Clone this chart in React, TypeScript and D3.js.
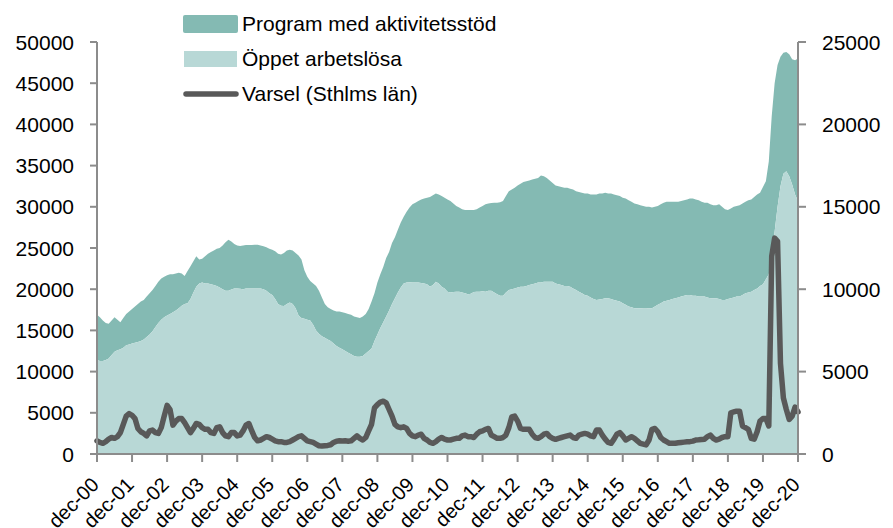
import React from "react";
import * as d3 from "d3";

// Monthly values, dec-00 … dec-20 (241 months)
const programMedAktivitetsstod: number[] = [
  5500,
  5300, 4900, 4500, 4200, 4200, 4200, 3700, 3300, 3600, 3800, 4000, 4200,
  4400, 4600, 4800, 4800, 4900, 5000, 5000, 5000, 5000, 5000, 4900, 4900,
  4800, 4600, 4500, 4300, 3900, 3400, 3900, 4000, 3800, 3700, 2900, 2900,
  3300, 3600, 3900, 4200, 4500, 4800, 5300, 5900, 6200, 5850, 5400, 5200,
  5200, 5300, 5250, 5250, 5250, 5300, 5300, 5200, 5200, 5300, 5400, 5500,
  5800, 6100, 6200, 6450, 6500, 6400, 6500, 6700, 7300, 7100, 5900, 5200,
  4800, 5000, 5400, 5200, 4700, 4100, 3900, 3900, 4000, 4200, 4400, 4500,
  4600, 4700, 4800, 4800, 4800, 4700, 4800, 4800, 5100, 5700, 5800, 6300,
  6500, 6700, 7100, 7100, 7400, 7400, 7600, 7900, 8100, 8600, 9050, 9500,
  9700, 9900, 10150, 10300, 10500, 10900, 10900, 10700, 10800, 11000, 11000, 11200,
  11100, 10750, 10400, 10200, 10100, 10100, 10200, 10150, 9950, 10000, 10200, 10350,
  10600, 10600, 10650, 10900, 11100, 11350, 11500, 11700, 12000, 12100, 12200, 12400,
  12500, 12700, 12700, 12700, 12700, 12700, 12700, 13000, 12800, 12600, 12300, 12000,
  11900, 11900, 11900, 11900, 11900, 11900, 12000, 12000, 12100, 12200, 12300, 12400,
  12500, 12700, 12800, 12850, 12800, 12800, 12700, 12800, 12800, 12800, 12800, 12800,
  12900, 12900, 12800, 12700, 12600, 12500, 12450, 12350, 12300, 12200, 12100, 12000,
  12000, 12000, 12000, 11900, 11800, 11700, 11600, 11600, 11600, 11600, 11700, 11800,
  11700, 11700, 11500, 11400, 11500, 11400, 11300, 11300, 11500, 11300, 11000, 10800,
  10900, 11000, 11000, 11100, 11100, 11100, 11200, 11200, 11300, 11400, 11300, 11800,
  11900, 13700, 16800, 18000, 17200, 15700, 14700, 14500, 14800, 15200, 16300, 17300,
];

const oppetArbetslosa: number[] = [
  11400,
  11300, 11300, 11400, 11600, 12000, 12400, 12600, 12700, 12900, 13200, 13300, 13400,
  13500, 13600, 13700, 13900, 14200, 14500, 14900, 15400, 15900, 16300, 16600, 16800,
  17000, 17200, 17400, 17700, 18000, 18200, 18300, 18800, 19600, 20300, 20700, 20800,
  20700, 20700, 20600, 20500, 20400, 20200, 20000, 19800, 19800, 19950, 20100, 20100,
  20050, 20000, 20100, 20100, 20100, 20100, 20100, 20100, 20000, 19800, 19500, 19300,
  18800, 18200, 18000, 17950, 18200, 18400, 18200, 17700, 16800, 16500, 16400, 16300,
  16200, 15700, 15000, 14600, 14300, 14100, 13900, 13700, 13400, 13100, 12900, 12700,
  12500, 12300, 12100, 11900, 11800, 11800, 11900, 12200, 12500, 12800, 13700, 14500,
  15300, 16000, 16700, 17400, 18200, 18900, 19600, 20200, 20700, 20800, 20850, 20800,
  20800, 20800, 20750, 20700, 20600, 20300, 20500, 20900, 20700, 20300, 20100, 19700,
  19600, 19650, 19700, 19700, 19600, 19500, 19400, 19450, 19650, 19700, 19700, 19750,
  19700, 19800, 19800, 19600, 19400, 19200, 19200, 19600, 19900, 20000, 20100, 20200,
  20300, 20300, 20400, 20500, 20600, 20700, 20800, 20800, 20900, 20900, 20900, 20900,
  20700, 20600, 20500, 20400, 20400, 20300, 20100, 19900, 19700, 19500, 19300, 19200,
  19000, 18800, 18700, 18750, 18800, 18900, 18900, 18800, 18700, 18600, 18500, 18300,
  18100, 17900, 17800, 17700, 17700, 17700, 17650, 17650, 17700, 17700, 17900, 18100,
  18300, 18500, 18600, 18700, 18800, 18900, 19000, 19100, 19200, 19300, 19300, 19200,
  19200, 19100, 19100, 19100, 19000, 18900, 18900, 18900, 18800, 18700, 18700, 18800,
  18900, 19000, 19100, 19100, 19300, 19500, 19600, 19700, 19900, 20100, 20400, 20600,
  21200, 21800, 24200, 27000, 30000, 32500, 34000, 34300, 33700, 32700, 31500, 30700,
];

const varselSthlm: number[] = [
  800,
  700, 650, 750, 900, 1000, 950, 1050, 1300, 1800, 2300, 2450, 2350,
  2150, 1550, 1350, 1250, 1100, 1400, 1450, 1300, 1250, 1600, 2300, 2950,
  2700, 1750, 2000, 2150, 2150, 1900, 1600, 1300, 1550, 1850, 1800, 1600,
  1500, 1500, 1300, 1250, 1600, 1650, 1300, 1100, 1050, 1300, 1300, 1100,
  1150, 1400, 1750, 1850, 1400, 1000, 800, 850, 950, 1050, 1000, 900,
  800, 750, 750, 700, 700, 750, 850, 950, 1050, 1100, 950, 800,
  750, 700, 600, 500, 480, 500, 520, 560, 700, 780, 800, 790,
  800, 780, 800, 950, 1100, 950, 850, 1000, 1400, 1800, 2800, 3000,
  3150, 3200, 3100, 2700, 2300, 1800, 1650, 1600, 1650, 1550, 1250, 1100,
  1050, 1150, 1200, 950, 850, 700, 650, 750, 900, 1000, 900, 850,
  850, 900, 950, 950, 1100, 1150, 1050, 1050, 1000, 1200, 1350, 1400,
  1500, 1550, 1150, 1050, 950, 950, 1000, 1150, 1600, 2250, 2300, 2000,
  1550, 1500, 1500, 1500, 1200, 1000, 950, 1050, 1200, 1250, 1050, 950,
  890, 950, 1000, 1050, 1100, 1150, 1000, 950, 1150, 1200, 1250, 1200,
  1100, 1050, 1450, 1450, 1150, 900, 700, 650, 900, 1200, 1300, 1100,
  850, 950, 1050, 950, 800, 650, 600, 550, 850, 1500, 1550, 1350,
  1000, 850, 750, 650, 650, 650, 680, 700, 720, 740, 750, 780,
  850, 860, 880, 900, 1050, 1150, 950, 850, 900, 1000, 1050, 1050,
  2500, 2550, 2600, 2600, 1700, 1600, 1500, 950, 900, 1350, 2000, 2150,
  2150, 1700, 12000, 13100, 12900, 5500, 3400, 2700, 2100, 2300, 2850, 2550,
];

const xTickLabels: string[] = [
  "dec-00", "dec-01", "dec-02", "dec-03", "dec-04", "dec-05", "dec-06",
  "dec-07", "dec-08", "dec-09", "dec-10", "dec-11", "dec-12", "dec-13",
  "dec-14", "dec-15", "dec-16", "dec-17", "dec-18", "dec-19", "dec-20",
];
const leftTicks: number[] = [0, 5000, 10000, 15000, 20000, 25000, 30000, 35000, 40000, 45000, 50000];
const rightTicks: number[] = [0, 5000, 10000, 15000, 20000, 25000];
const seriesNames: string[] = ["Program med aktivitetsstöd", "Öppet arbetslösa", "Varsel (Sthlms län)"];

const COL_PROGRAM = "#84bab3";
const COL_OPEN = "#b8d8d6";
const COL_LINE = "#595959";
const AXIS = "#8c8c8c";
const FONT = "'Liberation Sans', Arial, sans-serif";

export default function App() {
  const W = 893, H = 528;
  const left = 97, right = 798, top = 42, bottom = 454;
  const n = oppetArbetslosa.length;

  const x = d3.scaleLinear().domain([0, n - 1]).range([left, right]);
  const yL = d3.scaleLinear().domain([0, 50000]).range([bottom, top]);
  const yR = d3.scaleLinear().domain([0, 25000]).range([bottom, top]);

  const rows = oppetArbetslosa.map((o, i) => ({ i, open: o, program: programMedAktivitetsstod[i] }));
  const stacked = d3.stack<any>().keys(["open", "program"])(rows);

  const area = d3.area<any>()
    .x((d) => x(d.data.i))
    .y0((d) => yL(d[0]))
    .y1((d) => yL(d[1]))
    .curve(d3.curveLinear);

  const line = d3.line<number>()
    .x((_, i) => x(i))
    .y((v) => yR(v))
    .curve(d3.curveLinear);

  const fs = 21;

  return (
    <div style={{ width: W, height: H }}>
      <style>{`body{margin:0;}`}</style>
      <svg width={W} height={H} style={{ display: "block", fontFamily: FONT }}>
        <rect width={W} height={H} fill="#fff" />
        {/* areas */}
        <path d={area(stacked[1] as any) || ""} fill={COL_PROGRAM} />
        <path d={area(stacked[0] as any) || ""} fill={COL_OPEN} />
        {/* varsel line */}
        <path d={line(varselSthlm) || ""} fill="none" stroke={COL_LINE} strokeWidth={5.5}
          strokeLinejoin="round" strokeLinecap="round" />

        {/* left axis */}
        <line x1={left} x2={left} y1={top} y2={bottom} stroke={AXIS} strokeWidth={2} />
        {leftTicks.map((t) => (
          <g key={"l" + t}>
            <line x1={left - 7} x2={left} y1={yL(t)} y2={yL(t)} stroke={AXIS} strokeWidth={2} />
            <text x={74} y={yL(t) + 7.5} textAnchor="end" fontSize={fs} fill="#000">{t}</text>
          </g>
        ))}
        {/* right axis */}
        <line x1={right} x2={right} y1={top} y2={bottom} stroke={AXIS} strokeWidth={2} />
        {rightTicks.map((t) => (
          <g key={"r" + t}>
            <line x1={right} x2={right + 8} y1={yR(t)} y2={yR(t)} stroke={AXIS} strokeWidth={2} />
            <text x={822} y={yR(t) + 7.5} textAnchor="start" fontSize={fs} fill="#000">{t}</text>
          </g>
        ))}
        {/* x axis */}
        <line x1={left} x2={right} y1={bottom} y2={bottom} stroke={AXIS} strokeWidth={2} />
        {xTickLabels.map((lab, k) => {
          const xx = x(k * 12);
          return (
            <g key={lab}>
              <line x1={xx} x2={xx} y1={bottom} y2={bottom + 8} stroke={AXIS} strokeWidth={2} />
              <text transform={`translate(${xx + 3},${486}) rotate(-45)`} textAnchor="end"
                fontSize={20} fill="#000">{lab}</text>
            </g>
          );
        })}

        {/* legend */}
        <rect x={183} y={15} width={55} height={18} rx={2} fill={COL_PROGRAM} />
        <text x={242} y={31} fontSize={fs} fill="#000">{seriesNames[0]}</text>
        <rect x={184} y={51} width={53} height={16} fill={COL_OPEN} />
        <text x={242} y={66} fontSize={fs} fill="#000">{seriesNames[1]}</text>
        <line x1={186} x2={236} y1={94} y2={94} stroke={COL_LINE} strokeWidth={5.5} strokeLinecap="round" />
        <text x={242} y={101} fontSize={fs} fill="#000">{seriesNames[2]}</text>
      </svg>
    </div>
  );
}
